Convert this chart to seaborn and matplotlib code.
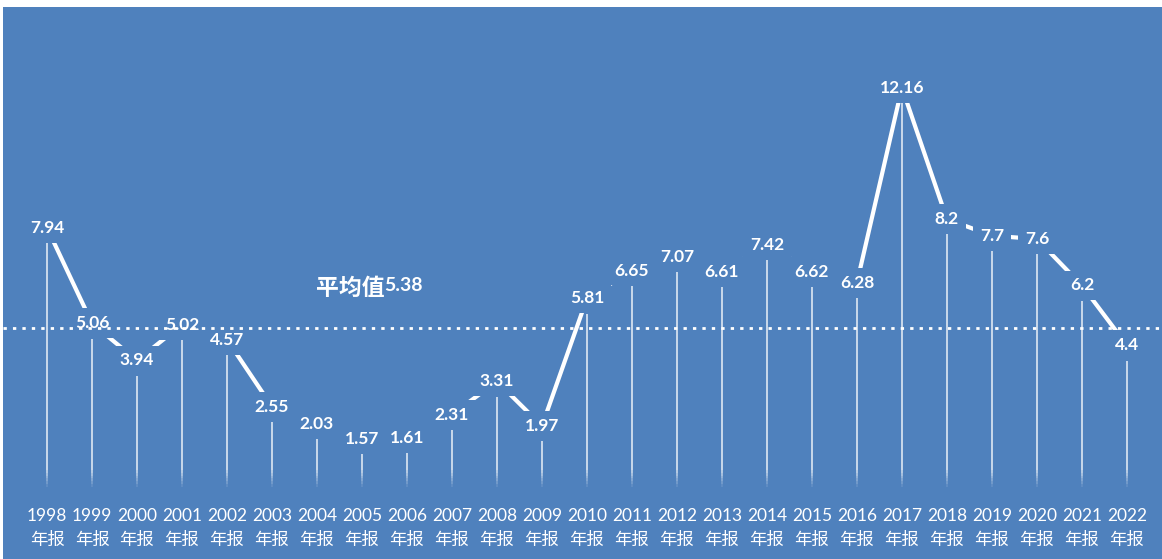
import matplotlib
matplotlib.use("Agg")
import matplotlib.pyplot as plt
import matplotlib.transforms as mtransforms
import numpy as np
import pandas as pd
import seaborn as sns

years = [str(y) for y in range(1998, 2023)]
values = [7.94, 5.06, 3.94, 5.02, 4.57, 2.55, 2.03, 1.57, 1.61, 2.31, 3.31, 1.97,
          5.81, 6.65, 7.07, 6.61, 7.42, 6.62, 6.28, 12.16, 8.2, 7.7, 7.6, 6.2, 4.4]
tick_labels = [f"{y}\n年报" for y in years]
average = 5.38
average_label = "平均值"

BG = "#4F81BD"


def main():
    sns.set_style("white")
    plt.rcParams["font.family"] = ["Lato", "Noto Sans CJK SC", "DejaVu Sans"]

    fig = plt.figure(figsize=(11.62, 5.59), dpi=100, facecolor="white")
    ax = fig.add_axes([3 / 1162, 0, 1159 / 1162, 552 / 559])
    ax.set_facecolor(BG)

    df = pd.DataFrame({"pos": np.arange(len(years)), "value": values})

    # labels sit ~15px above each point, the line joins the label centres
    lift = mtransforms.offset_copy(ax.transData, fig=fig, x=0, y=11, units="points")

    # drop lines, fading out towards the bottom
    ax.vlines(df["pos"], 1.1, df["value"], color="white", lw=1.3, alpha=0.75, zorder=1)
    steps = np.linspace(1.1, 0.6, 7)
    for i in range(len(steps) - 1):
        ax.vlines(df["pos"], steps[i + 1], steps[i], color="white", lw=1.3,
                  alpha=0.75 * (1 - (i + 1) / len(steps)), zorder=1)

    # dotted average line stays on top of the label boxes
    ax.axhline(average, color="white", lw=2, ls=(0, (1.2, 2.2)), zorder=4)

    sns.lineplot(data=df, x="pos", y="value", ax=ax, color="white", lw=3,
                 transform=lift, zorder=2)

    for pos, v in zip(df["pos"], df["value"]):
        ax.text(pos, v, f"{v:g}", transform=lift, ha="center", va="center",
                color="white", fontsize=12.5, fontweight="bold",
                bbox=dict(boxstyle="square,pad=0.4", fc=BG, ec="none"), zorder=3)

    t1 = ax.text(5.97, 6.58, average_label, ha="left", va="center", color="white",
                 fontsize=16.5, fontweight="bold", family=["Noto Sans CJK SC"], zorder=3)
    ax.annotate(f"{average:.2f}", xy=(1, 0.26), xycoords=t1, ha="left", va="bottom",
                color="white", fontsize=14, fontweight="bold", zorder=3)

    ax.set_xlim(-0.978, 24.78)
    ax.set_ylim(-1.58, 15.05)
    ax.set_xticks(df["pos"], tick_labels)
    ax.set_yticks([])
    ax.tick_params(axis="x", length=0, pad=-37, labelsize=12.5, colors="white")
    plt.setp(ax.get_xticklabels(), linespacing=1.6)
    ax.set_xlabel("")
    ax.set_ylabel("")
    for spine in ax.spines.values():
        spine.set_visible(False)

    fig.savefig("out.png", dpi=100, facecolor="white")


if __name__ == "__main__":
    main()
